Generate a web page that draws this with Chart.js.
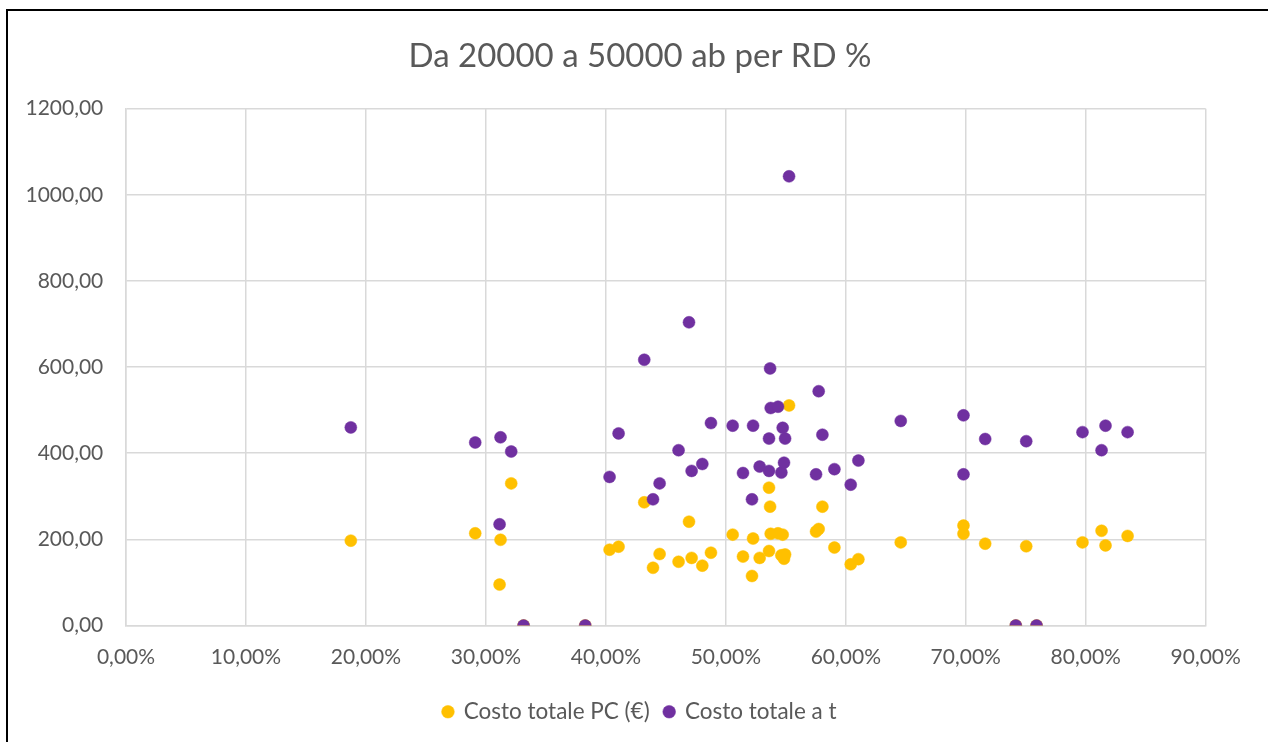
<!DOCTYPE html>
<html>
<head>
<meta charset="utf-8">
<script src="https://cdn.jsdelivr.net/npm/chart.js@4/dist/chart.umd.min.js"></script>
<style>
  html, body { margin: 0; padding: 0; background: #fff; overflow: hidden; }
  #wrap { position: relative; width: 1268px; height: 742px; }
  #frame { position: absolute; left: 6px; top: 9px; width: 1300px; height: 800px; border: 2px solid #000; pointer-events: none; }
</style>
</head>
<body>
<div id="wrap">
  <canvas id="rdChart" width="1268" height="742"></canvas>
  <div id="frame"></div>
</div>
<script>
// RD % per comune (asse x) con i due costi totali
const rdPercent = [
    18.74, 29.11, 31.22, 32.11, 31.14, 33.14, 38.28, 40.31, 41.06, 43.20,
    43.93, 44.48, 46.06, 46.93, 47.15, 48.04, 48.76, 50.57, 51.43, 52.18,
    52.27, 52.82, 53.60, 53.60, 53.69, 53.74, 54.35, 54.63, 54.74, 54.85,
    54.94, 55.27, 57.52, 57.74, 58.05, 59.05, 60.41, 61.05, 64.58, 69.81,
    69.81, 71.62, 74.17, 75.04, 75.90, 79.73, 81.32, 81.65, 83.49
];
const costoPC = [
    197, 214, 199, 330, 95, 0, 0, 176, 183, 286,
    134, 166, 148, 241, 157, 139, 169, 211, 160, 115,
    202, 157, 173, 320, 276, 213, 214, 163, 211, 155,
    165, 511, 218, 224, 276, 181, 142, 154, 193, 232,
    213, 190, 0, 184, 0, 193, 220, 186, 208
];
const costoAT = [
    460, 425, 437, 404, 235, 0, 0, 345, 446, 617,
    293, 330, 407, 704, 359, 375, 470, 464, 354, 293,
    464, 369, 359, 434, 597, 505, 508, 355, 459, 378,
    434, 1043, 351, 544, 443, 363, 327, 383, 475, 488,
    351, 433, 0, 428, 0, 449, 407, 464, 449
];
const seriesNames = ['Costo totale PC (€)', 'Costo totale a t'];
const titleText = 'Da 20000 a 50000 ab per RD %';

const gridColor = '#d9d9d9';
const textColor = '#595959';
const fontFamily = 'Lato, "Open Sans", sans-serif';

function toPoints(ys) {
    return rdPercent.map((x, i) => ({ x: x, y: ys[i] }));
}

function itNum(v, digits) {
    return v.toFixed(digits).replace('.', ',');
}

function initChart() {
    const ctx = document.getElementById('rdChart').getContext('2d');
    new Chart(ctx, {
        type: 'scatter',
        data: {
            datasets: [
                {
                    label: seriesNames[0],
                    data: toPoints(costoPC),
                    backgroundColor: '#FFC000',
                    borderColor: '#FFC000',
                    pointRadius: 6,
                    borderWidth: 0.5,
                    order: 1
                },
                {
                    label: seriesNames[1],
                    data: toPoints(costoAT),
                    backgroundColor: '#7030A0',
                    borderColor: '#7030A0',
                    pointRadius: 6,
                    borderWidth: 0.5,
                    order: 0
                }
            ]
        },
        options: {
            responsive: false,
            animation: false,
            parsing: false,
            layout: { padding: { left: 12, right: 0, top: 0, bottom: 9 } },
            scales: {
                x: {
                    type: 'linear',
                    min: 0,
                    max: 90,
                    grid: { color: gridColor, lineWidth: 1.5, drawTicks: false },
                    border: { color: gridColor, width: 1.5 },
                    ticks: {
                        stepSize: 10,
                        padding: 19,
                        color: textColor,
                        font: { family: fontFamily, size: 21 },
                        callback: v => itNum(v, 2) + '%'
                    },
                    afterFit: s => { s.height = 60; }
                },
                y: {
                    min: 0,
                    max: 1200,
                    grid: { color: gridColor, lineWidth: 1.5, drawTicks: false },
                    border: { color: gridColor, width: 1.5 },
                    ticks: {
                        stepSize: 200,
                        padding: 22.7,
                        color: textColor,
                        font: { family: fontFamily, size: 21 },
                        callback: v => itNum(v, 2)
                    },
                    afterFit: s => { s.width = 114; }
                },
                // empty axis on the right, only reserves the margin
                yPad: {
                    position: 'right',
                    grid: { display: false },
                    border: { display: false },
                    ticks: { display: false },
                    afterFit: s => { s.width = 62.3; }
                }
            },
            plugins: {
                title: {
                    display: true,
                    text: titleText,
                    color: textColor,
                    font: { family: fontFamily, size: 33, weight: 'normal' },
                    padding: { top: 36.5, bottom: 32.6 }
                },
                legend: {
                    position: 'bottom',
                    reverse: true,
                    labels: {
                        usePointStyle: true,
                        pointStyle: 'circle',
                        boxWidth: 9,
                        boxHeight: 9,
                        padding: 15,
                        color: textColor,
                        font: { family: fontFamily, size: 22.5 }
                    }
                },
                tooltip: { enabled: false }
            }
        }
    });
}

if (typeof Chart !== 'undefined') {
    initChart();
} else {
    window.addEventListener('load', initChart);
}
</script>
</body>
</html>
